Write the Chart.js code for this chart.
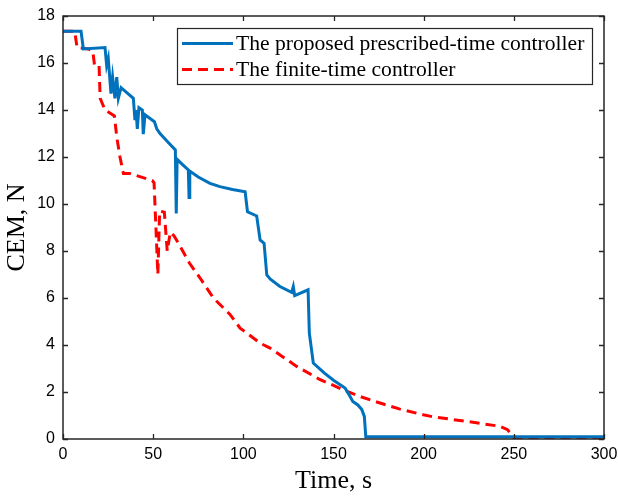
<!DOCTYPE html>
<html>
<head>
<meta charset="utf-8">
<script src="https://cdn.jsdelivr.net/npm/chart.js@4"></script>
<style>
    body { margin: 0; background: #fff; }
    #wrap { width: 618px; height: 497px; }
</style>
</head>
<body>
<div id="wrap"><canvas id="cem-chart" width="618" height="497"></canvas></div>
<script>
// CEM vs time for the two controllers

const seriesNames = ['The proposed prescribed-time controller', 'The finite-time controller'];

// prescribed-time controller (blue)
const ptTime = [0, 10, 11.3, 23.3, 24.2, 25.1, 26.6, 27.5, 28.8, 29.8, 30.7, 32.2, 39, 39.9, 40.5, 41.2, 42.1, 44, 44.5, 45.5,
    50.7, 52, 53.8, 58, 62.3, 62.8, 63.3, 66, 69.5, 69.9, 70.3, 75, 81.5, 87, 94, 101, 102.3, 107.4, 109.3, 111.5, 113,
    115, 120.3, 126.8, 127.7, 128.5, 135.9, 136.6, 138.8, 145, 150, 156.4, 159.2, 160.7, 163.5, 165.7, 167.1, 167.9, 300];
const ptCem = [17.35, 17.35, 16.6, 16.66, 15.9, 16.2, 14.7, 15.4, 14.5, 15.4, 14.5, 14.95, 14.5, 13.57, 14.0, 13.2, 14.1, 14.0, 12.97, 13.8,
    13.5, 13.2, 13.0, 12.65, 12.3, 9.6, 11.9, 11.7, 11.45, 10.28, 11.4, 11.15, 10.88, 10.74, 10.62, 10.52, 9.67, 9.49, 8.47, 8.33, 6.98,
    6.8, 6.49, 6.24, 6.49, 6.1, 6.35, 4.5, 3.23, 2.8, 2.5, 2.17, 1.81, 1.6, 1.45, 1.25, 0.96, 0.1, 0.1];

// finite-time controller (red dashed)
const ftTime = [0, 6.5, 7.8, 14, 16.5, 17.5, 20, 20.6, 23.3, 27.5, 28.5, 29.8, 31.6, 33.5, 37, 49.5, 50.5, 51.2, 52.6, 53.6,
    56.2, 57.8, 59.5, 61.5, 64, 70, 76, 83.4, 92.6, 98.2, 109.3, 114.8, 129.6, 142, 155.5, 165, 175.8, 186.9, 199.8, 205.4,
    223.8, 242.4, 246.5, 248.5, 250, 300];
const ftCem = [17.35, 17.35, 16.65, 16.6, 16.5, 15.9, 15.9, 14.5, 14.0, 13.8, 13.75, 12.86, 12.0, 11.3, 11.3, 11.0, 10.9, 9.6, 7.0, 9.7,
    9.65, 8.0, 8.8, 8.65, 8.33, 7.5, 6.85, 6.0, 5.3, 4.72, 4.08, 3.87, 3.09, 2.55, 2.09, 1.8, 1.53, 1.27, 1.03, 0.94,
    0.75, 0.54, 0.4, 0.2, 0.05, 0.05];

const xTicks = [0, 50, 100, 150, 200, 250, 300];
const yTicks = [0, 2, 4, 6, 8, 10, 12, 14, 16, 18];

function toPoints(xs, ys) {
    return xs.map((x, i) => ({ x: x, y: ys[i] }));
}

const axisColor = '#262626';
const serif = '"Liberation Serif", "Times New Roman", serif';
const sans = '"Liberation Sans", Arial, sans-serif';

// MATLAB style box with inward ticks, plus legend inside the axes
const boxPlugin = {
    id: 'boxPlugin',
    afterDraw(chart) {
        const ctx = chart.ctx;
        const a = chart.chartArea;
        const xs = chart.scales.x, ys = chart.scales.y;
        const tl = 5;
        ctx.save();
        ctx.strokeStyle = axisColor;
        ctx.lineWidth = 1.3;
        ctx.beginPath();
        xTicks.forEach(v => {
            const px = Math.round(xs.getPixelForValue(v)) + 0.5;
            ctx.moveTo(px, a.bottom); ctx.lineTo(px, a.bottom - tl);
            ctx.moveTo(px, a.top); ctx.lineTo(px, a.top + tl);
        });
        yTicks.forEach(v => {
            const py = Math.round(ys.getPixelForValue(v)) + 0.5;
            ctx.moveTo(a.left, py); ctx.lineTo(a.left + tl, py);
            ctx.moveTo(a.right, py); ctx.lineTo(a.right - tl, py);
        });
        ctx.stroke();
        ctx.lineWidth = 1.5;
        ctx.strokeRect(a.left, a.top, a.right - a.left, a.bottom - a.top);

        // legend
        const lx = 177, ly = 28, lw = 415, lh = 56;
        ctx.fillStyle = '#fff';
        ctx.fillRect(lx, ly, lw, lh);
        ctx.lineWidth = 1.2;
        ctx.strokeStyle = axisColor;
        ctx.strokeRect(lx + 0.5, ly + 0.5, lw, lh);
        ctx.font = '21.6px ' + serif;
        ctx.textBaseline = 'middle';
        const rows = [43.5, 69.5];
        chart.data.datasets.forEach((ds, i) => {
            ctx.strokeStyle = ds.borderColor;
            ctx.lineWidth = ds.borderWidth;
            ctx.setLineDash(ds.borderDash || []);
            ctx.beginPath();
            ctx.moveTo(182, rows[i]);
            ctx.lineTo(233, rows[i]);
            ctx.stroke();
            ctx.setLineDash([]);
            ctx.fillStyle = '#000';
            ctx.fillText(ds.label, 236, rows[i] + 1);
        });
        ctx.restore();
    }
};

new Chart(document.getElementById('cem-chart').getContext('2d'), {
    type: 'line',
    data: {
        datasets: [{
            label: seriesNames[0],
            data: toPoints(ptTime, ptCem),
            borderColor: '#0072BD',
            borderWidth: 3,
            pointRadius: 0,
            tension: 0
        }, {
            label: seriesNames[1],
            data: toPoints(ftTime, ftCem),
            borderColor: '#FF0000',
            borderWidth: 3,
            borderDash: [10, 6],
            pointRadius: 0,
            tension: 0
        }]
    },
    options: {
        responsive: false,
        animation: false,
        layout: { padding: { top: 16, right: 14, left: 0, bottom: 0 } },
        plugins: {
            legend: { display: false },
            tooltip: { enabled: false }
        },
        scales: {
            x: {
                type: 'linear',
                min: 0, max: 300,
                afterFit: s => { s.height = 58; s.paddingLeft = 0; s.paddingRight = 0; },
                afterBuildTicks: s => { s.ticks = xTicks.map(v => ({ value: v })); },
                grid: { display: false, drawTicks: false },
                border: { display: false },
                ticks: {
                    color: '#000',
                    padding: 6,
                    maxRotation: 0,
                    font: { family: sans, size: 16 }
                },
                title: {
                    display: true,
                    text: 'Time, s',
                    color: '#000',
                    padding: { top: 0, bottom: 0 },
                    font: { family: serif, size: 26 }
                }
            },
            y: {
                type: 'linear',
                min: 0, max: 18,
                afterFit: s => { s.width = 63; s.paddingTop = 0; s.paddingBottom = 0; },
                afterBuildTicks: s => { s.ticks = yTicks.map(v => ({ value: v })); },
                grid: { display: false, drawTicks: false },
                border: { display: false },
                ticks: {
                    color: '#000',
                    padding: 8,
                    font: { family: sans, size: 16 }
                },
                title: {
                    display: true,
                    text: 'CEM, N',
                    color: '#000',
                    padding: { top: 2, bottom: 0 },
                    font: { family: serif, size: 26 }
                }
            }
        }
    },
    plugins: [boxPlugin]
});
</script>
</body>
</html>
